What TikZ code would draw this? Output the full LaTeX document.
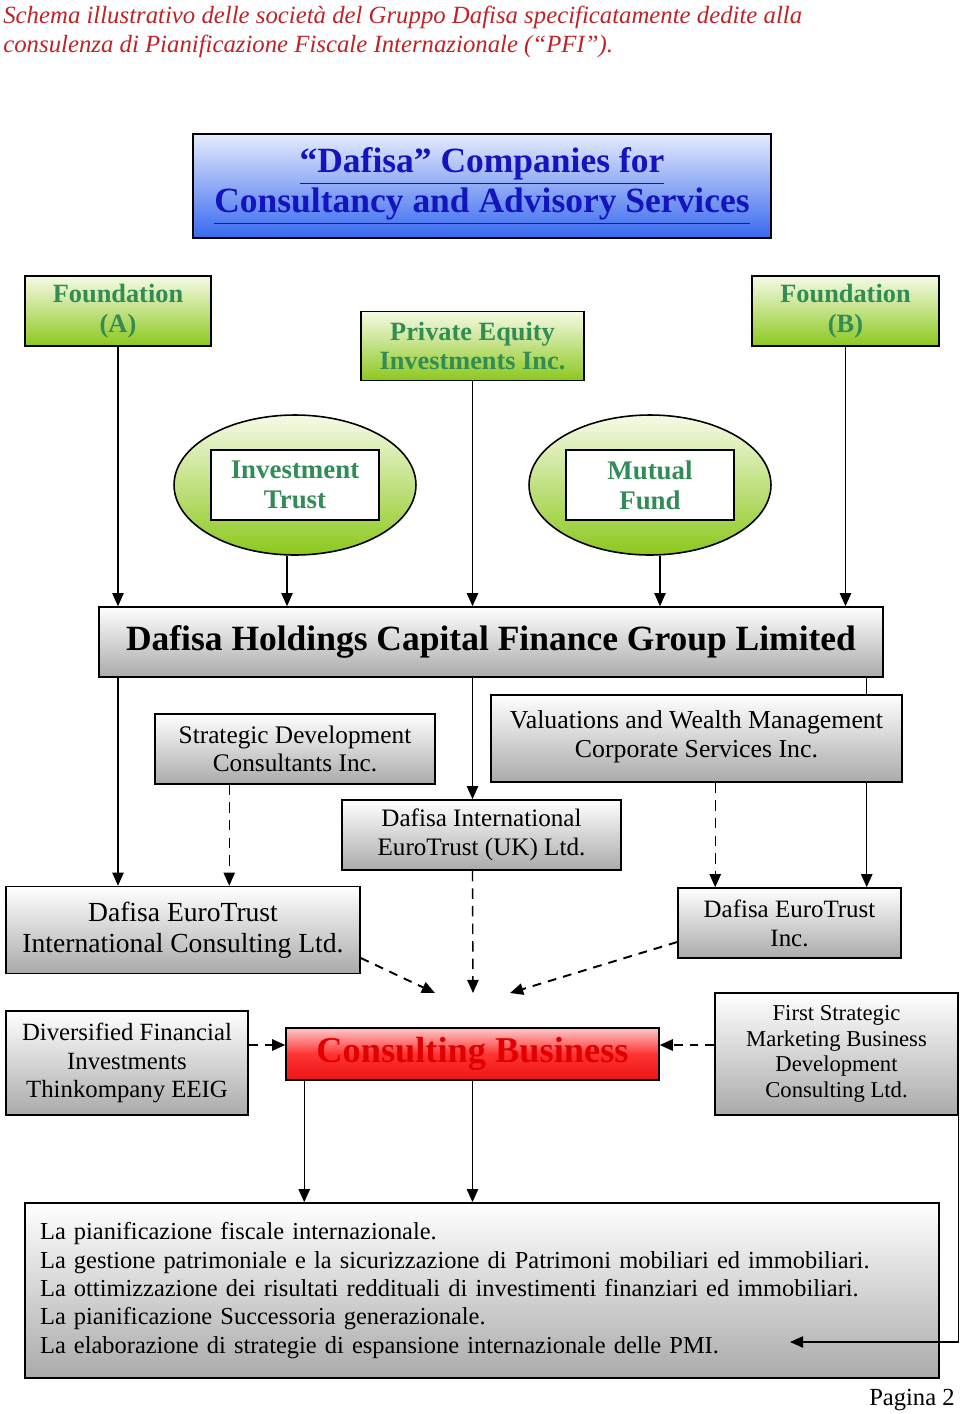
\documentclass[tikz,border=0pt]{standalone}
\usepackage{fontspec}
\setmainfont{Liberation Serif}
\usetikzlibrary{arrows.meta,shapes.geometric,calc}

\definecolor{titlered}{RGB}{190,35,40}
\definecolor{bluetop}{RGB}{230,236,252}
\definecolor{bluebot}{RGB}{55,105,240}
\definecolor{bluetext}{RGB}{20,20,190}
\definecolor{greentop}{RGB}{246,250,230}
\definecolor{greenbot}{RGB}{140,200,30}
\definecolor{greentext}{RGB}{50,140,85}
\definecolor{greybot}{RGB}{170,170,170}
\definecolor{redtop}{RGB}{255,200,200}
\definecolor{redbot}{RGB}{235,20,20}
\definecolor{redtext}{RGB}{225,0,0}

\begin{document}
\begin{tikzpicture}[x=0.02cm, y=-0.02cm,
    >={Triangle[width=6.5pt,length=7.5pt]},
    % Styles
    bluebox/.style={draw, line width=0.9pt, top color=bluetop, bottom color=bluebot,
                    text=bluetext, align=center, inner sep=0pt},
    greenbox/.style={draw, line width=0.9pt, top color=greentop, bottom color=greenbot,
                     text=greentext, align=center, inner sep=0pt},
    fund/.style={ellipse, draw, line width=0.9pt, top color=greentop, bottom color=greenbot,
                 minimum width=4.84cm, minimum height=2.8cm, inner sep=0pt},
    fundlbl/.style={draw, line width=0.9pt, fill=white, text=greentext, align=center,
                    minimum width=3.36cm, minimum height=1.4cm, inner sep=0pt,
                    font=\fontsize{15.3}{17}\selectfont\bfseries},
    greybox/.style={draw, line width=0.9pt, top color=white, bottom color=greybot,
                    align=center, inner sep=0pt},
    redbox/.style={draw, line width=0.9pt, top color=redtop, bottom color=redbot,
                   middle color=red!80, text=redtext, align=center, inner sep=0pt},
    arrow/.style={->, line width=0.8pt},
    darrow/.style={->, line width=0.8pt, dash pattern=on 6pt off 4pt},
    sarrow/.style={->, line width=1.1pt, dash pattern=on 5pt off 4pt},
  ]
  \useasboundingbox (0,0) rectangle (960,1414);

  % Heading
  \node[anchor=north west, inner sep=0pt, align=left, text=titlered,
        font=\fontsize{14.1}{16.4}\selectfont\itshape] (head) at (3,6)
    {Schema illustrativo delle società del Gruppo Dafisa specificatamente dedite alla\\
     consulenza di Pianificazione Fiscale Internazionale (“PFI”).};

  % Top box
  \node[bluebox, minimum width=11.56cm, minimum height=2.08cm,
        font=\fontsize{20.2}{22.7}\selectfont\bfseries] (dafisa) at (482,186)
    {\underline{“Dafisa” Companies for}\\\underline{Consultancy and Advisory Services}};

  % Foundations and equity
  \node[greenbox, minimum width=3.72cm, minimum height=1.4cm,
        font=\fontsize{15}{17}\selectfont\bfseries] (fA) at (118,311) {Foundation\\(A)};
  \node[greenbox, minimum width=4.46cm, minimum height=1.38cm,
        font=\fontsize{15}{17}\selectfont\bfseries] (pei) at (472.5,346)
    {Private Equity\\Investments Inc.};
  \node[greenbox, minimum width=3.74cm, minimum height=1.4cm,
        font=\fontsize{15}{17}\selectfont\bfseries] (fB) at (845.5,311) {Foundation\\(B)};

  % Funds
  \node[fund] (trust) at (295,485) {};
  \node[fundlbl] (trustlbl) at (295,485) {Investment\\Trust};
  \node[fund] (mutual) at (650,485) {};
  \node[fundlbl] (mutuallbl) at (650,485) {Mutual\\Fund};

  % Holding
  \node[greybox, minimum width=15.68cm, minimum height=1.4cm,
        font=\fontsize{20.2}{24}\selectfont\bfseries] (hold) at (491,642)
    {Dafisa Holdings Capital Finance Group Limited};

  % Subsidiaries
  \node[greybox, minimum width=5.6cm, minimum height=1.4cm,
        font=\fontsize{14.4}{16}\selectfont] (sdc) at (295,749)
    {Strategic Development\\Consultants Inc.};
  \node[greybox, minimum width=5.58cm, minimum height=1.4cm,
        font=\fontsize{14.3}{16.4}\selectfont] (dieuk) at (481.5,835)
    {Dafisa International\\EuroTrust (UK) Ltd.};
  \node[greybox, minimum width=7.08cm, minimum height=1.74cm,
        font=\fontsize{15.7}{17.6}\selectfont] (deicl) at (183,930)
    {Dafisa EuroTrust\\International Consulting Ltd.};
  \node[greybox, minimum width=4.46cm, minimum height=1.4cm,
        font=\fontsize{14.2}{16.4}\selectfont] (dei) at (789.5,923)
    {Dafisa EuroTrust\\Inc.};

  % Arrows into holding
  \coordinate (trustout) at ($(trust.south)+(-8,0)$);
  \coordinate (mutualout) at ($(mutual.south)+(10,0)$);
  \draw[arrow] (fA) -- (fA |- hold.north);
  \draw[arrow] (trustout) -- (trustout |- hold.north);
  \draw[arrow] (pei) -- (pei |- hold.north);
  \draw[arrow] (mutualout) -- (mutualout |- hold.north);
  \draw[arrow] (fB) -- (fB |- hold.north);

  % Arrows out of holding
  \coordinate (holdout) at ($(hold.south east)+(-17,0)$);
  \draw[arrow] (fA |- hold.south) -- (fA |- deicl.north);
  \draw[arrow] (pei |- hold.south) -- (pei |- dieuk.north);
  \draw[arrow] (holdout) -- (holdout |- dei.north);

  \node[greybox, minimum width=8.22cm, minimum height=1.74cm,
        font=\fontsize{14.7}{16.4}\selectfont] (vwm) at (696.5,738.5)
    {Valuations and Wealth Management\\Corporate Services Inc.\\[-11pt]};

  \coordinate (sdcout) at ($(sdc.south west)+(75,0)$);
  \coordinate (vwmout) at ($(dei.north west)+(38,0)$);
  \draw[darrow] (sdcout) -- (sdcout |- deicl.north);
  \draw[darrow] (vwmout |- vwm.south) -- (vwmout);

  % Consulting business
  \node[greybox, minimum width=4.84cm, minimum height=2.08cm,
        font=\fontsize{14.1}{16.4}\selectfont] (dfite) at (127,1063)
    {Diversified Financial\\Investments\\Thinkompany EEIG};
  \node[redbox, minimum width=7.46cm, minimum height=1.04cm,
        font=\fontsize{20.7}{24}\selectfont\bfseries] (cb) at (472.5,1054)
    {Consulting Business};
  \node[greybox, minimum width=4.86cm, minimum height=2.44cm,
        font=\fontsize{12.9}{14.7}\selectfont] (fsm) at (836.5,1054)
    {First Strategic\\Marketing Business\\Development\\Consulting Ltd.};

  \coordinate (cbin) at (473,993);
  \coordinate (cbl) at (435,993);
  \coordinate (cbr) at (510,993);
  \draw[darrow] (pei |- dieuk.south) -- (cbin);
  \draw[sarrow] ($(deicl.east)+(0,28)$) -- (cbl);
  \draw[sarrow] ($(dei.west)+(0,19)$) -- (cbr);

  \coordinate (cbw) at ($(cb.west)+(0,-9)$);
  \coordinate (cbe) at ($(cb.east)+(0,-9)$);
  \draw[sarrow] (dfite.east |- cbw) -- (cbw);
  \draw[sarrow] (fsm.west |- cbe) -- (cbe);

  % Services
  \node[greybox, minimum width=18.28cm, minimum height=3.5cm, text width=17.68cm,
        align=left, font=\fontsize{13.9}{16.2}\selectfont] (serv) at (482,1290.5)
    {La pianificazione fiscale internazionale.\\
     La gestione patrimoniale e la sicurizzazione di Patrimoni mobiliari ed immobiliari.\\
     La ottimizzazione dei risultati reddituali di investimenti finanziari ed immobiliari.\\
     La pianificazione Successoria generazionale.\\
     La elaborazione di strategie di espansione internazionale delle PMI.\par\vspace{6pt}};

  \coordinate (cbout) at ($(cb.south west)+(19,0)$);
  \coordinate (servin) at (790,1342);
  \draw[arrow] (cbout) -- (cbout |- serv.north);
  \draw[arrow] (pei |- cb.south) -- (pei |- serv.north);
  \draw[arrow] (fsm.south east) |- (servin);

  % Page
  \node[anchor=base east, inner sep=0pt, font=\fontsize{14}{16}\selectfont] (page)
    at (955,1405) {Pagina 2};

\end{tikzpicture}
\end{document}
